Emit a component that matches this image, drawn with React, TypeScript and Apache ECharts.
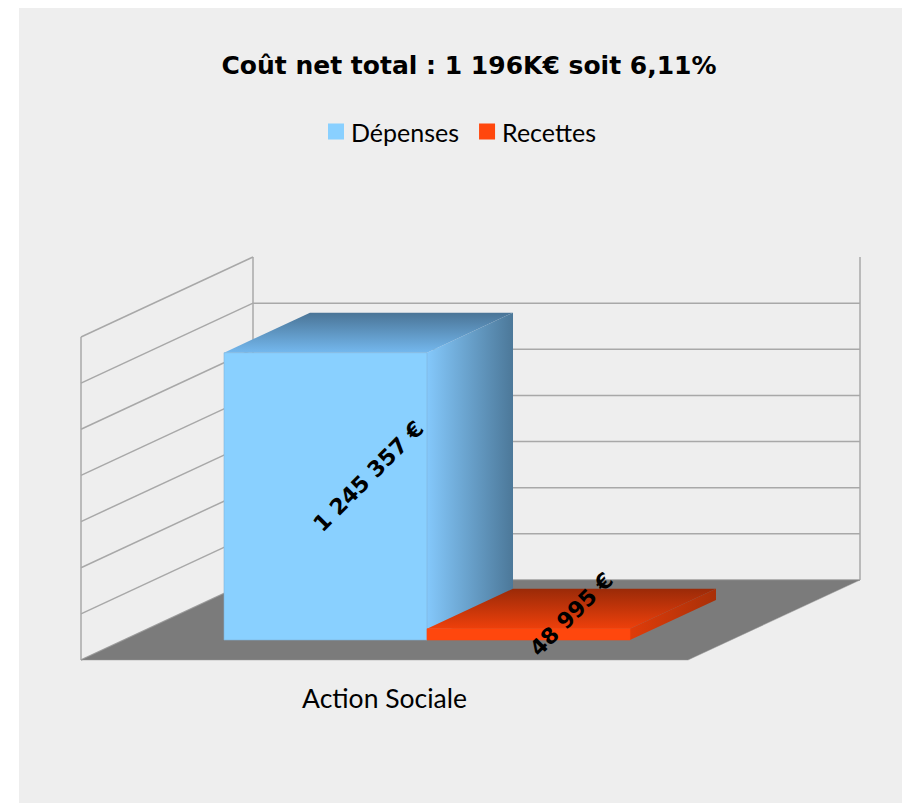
import React, { useEffect, useRef } from "react";
import * as echarts from "echarts";

const categories = ["Action Sociale"];
const seriesNames = ["Dépenses", "Recettes"];
const depenses = [1245357];
const recettes = [48995];
const wallTicks = [0, 200000, 400000, 600000, 800000, 1000000, 1200000, 1400000];
const titleText = "Coût net total : 1 196K€ soit 6,11%";
const FONT = "Lato, sans-serif";
const BOLD_FONT = "'DejaVu Sans', sans-serif";

const fmt = (v: number) => String(v).replace(/\B(?=(\d{3})+(?!\d))/g, " ") + " €";

const DX = 172;
const DY = -80;
const GRID = { left: 81, top: 337, width: 607, height: 323 };
const BAR_FRAC = 203 / 607;
const GAP_FRAC = 100 / 607;

function lin(x0: number, y0: number, x1: number, y1: number, c0: string, c1: string) {
  return new echarts.graphic.LinearGradient(x0, y0, x1, y1, [
    { offset: 0, color: c0 },
    { offset: 1, color: c1 },
  ]);
}

function renderWalls(_: any, api: any) {
  const band = api.size([1, 0])[0];
  const c = api.coord([0, 0]);
  const x0 = c[0] - band / 2;
  const x1 = x0 + band;
  const yBase = c[1];
  const last = wallTicks[wallTicks.length - 1];
  const yTop = api.coord([0, last])[1];
  const stroke = { stroke: "#a8a8a8", lineWidth: 1.5, fill: "none" };
  const line = (a: number, b: number, c2: number, d: number) => ({
    type: "line",
    shape: { x1: a, y1: b, x2: c2, y2: d },
    style: stroke,
  });
  const children: any[] = [];
  wallTicks.forEach((t) => {
    const y = api.coord([0, t])[1];
    children.push(line(x0, y, x0 + DX, y + DY));
    if (t !== last) children.push(line(x0 + DX, y + DY, x1 + DX, y + DY));
  });
  children.push(line(x0, yBase, x0, yTop));
  children.push(line(x0 + DX, yBase + DY, x0 + DX, yTop + DY));
  children.push(line(x1 + DX, yBase + DY, x1 + DX, yTop + DY));
  children.push({
    type: "polygon",
    shape: {
      points: [
        [x0, yBase],
        [x1, yBase],
        [x1 + DX, yBase + DY],
        [x0 + DX, yBase + DY],
      ],
    },
    style: { fill: "#7b7b7b", stroke: "#9a9a9a", lineWidth: 0.5 },
  });
  return { type: "group", children };
}

function makeBar(index: number, colors: any) {
  return (_: any, api: any) => {
    const value = api.value(1);
    const band = api.size([1, 0])[0];
    const c = api.coord([0, 0]);
    const dx = DX / 2;
    const dy = DY / 2;
    const h = c[1] - api.coord([0, value])[1];
    const left = c[0] - band / 2 + DX / 4 + band * (GAP_FRAC + BAR_FRAC * index);
    const bw = band * BAR_FRAC;
    const bottom = c[1] + DY / 4;
    const top = bottom - h;
    const right = left + bw;
    const cx = (left + right + dx) / 2;
    const cy = (bottom + top + dy) / 2;
    return {
      type: "group",
      children: [
        {
          type: "polygon",
          shape: { points: [[right, top], [right + dx, top + dy], [right + dx, bottom + dy], [right, bottom]] },
          style: { fill: lin(0, 0, 1, 0, colors.side0, colors.side1) },
        },
        {
          type: "polygon",
          shape: { points: [[left, top], [right, top], [right + dx, top + dy], [left + dx, top + dy]] },
          style: { fill: lin(0, 1, 0, 0, colors.top0, colors.top1) },
        },
        {
          type: "rect",
          shape: { x: left, y: top, width: bw, height: h },
          style: { fill: colors.front, stroke: colors.edge, lineWidth: 0.6 },
        },
        {
          type: "text",
          x: cx,
          y: cy,
          rotation: Math.PI / 4,
          style: {
            text: fmt(value),
            fill: "#000",
            font: `bold 22px ${BOLD_FONT}`,
            textAlign: "center",
            textVerticalAlign: "middle",
          },
        },
      ],
    };
  };
}

const blue = { front: "#89d0ff", edge: "#82b4d8", side0: "#84c8fb", side1: "#4c7899", top0: "#74b8ee", top1: "#4a7496" };
const red = { front: "#ff470d", edge: "#ff470d", side0: "#e03c0a", side1: "#a83008", top0: "#ee400b", top1: "#9a2a08" };

export default function App() {
  const ref = useRef<HTMLDivElement>(null);
  useEffect(() => {
    const chart = echarts.init(ref.current!, null, { renderer: "svg" });
    chart.setOption({
      animation: false,
      backgroundColor: "#ffffff",
      graphic: [
        { type: "rect", z: -10, silent: true, shape: { x: 19, y: 8, width: 883, height: 795 }, style: { fill: "#eeeeee" } },
      ],
      title: {
        text: titleText,
        left: 464,
        top: 48,
        textAlign: "center",
        textStyle: { fontFamily: BOLD_FONT, fontWeight: "bold", fontSize: 25, color: "#000" },
      },
      legend: {
        data: seriesNames,
        left: 323,
        top: 114,
        icon: "rect",
        itemWidth: 16,
        itemHeight: 16,
        itemGap: 20,
        textStyle: { fontFamily: FONT, fontSize: 25, color: "#000", padding: [0, 0, 0, 2] },
      },
      grid: { ...GRID, containLabel: false },
      xAxis: {
        type: "category",
        data: categories,
        axisLine: { show: false },
        axisTick: { show: false },
        axisLabel: { fontFamily: FONT, fontSize: 26.5, color: "#000", margin: 24 },
      },
      yAxis: {
        type: "value",
        min: 0,
        max: 1400000,
        interval: 200000,
        axisLine: { show: false },
        axisTick: { show: false },
        axisLabel: { show: false },
        splitLine: { show: false },
      },
      series: [
        {
          name: "walls",
          type: "custom",
          renderItem: renderWalls,
          data: [[0, 0]],
          silent: true,
          z: 1,
        },
        {
          name: seriesNames[0],
          type: "custom",
          renderItem: makeBar(0, blue),
          data: depenses.map((v, i) => [i, v]),
          itemStyle: { color: blue.front },
          z: 2,
        },
        {
          name: seriesNames[1],
          type: "custom",
          renderItem: makeBar(1, red),
          data: recettes.map((v, i) => [i, v]),
          itemStyle: { color: red.front },
          z: 3,
        },
      ],
    });
    return () => chart.dispose();
  }, []);
  return <div ref={ref} style={{ position: "absolute", left: 0, top: 0, width: 902, height: 803 }} />;
}
